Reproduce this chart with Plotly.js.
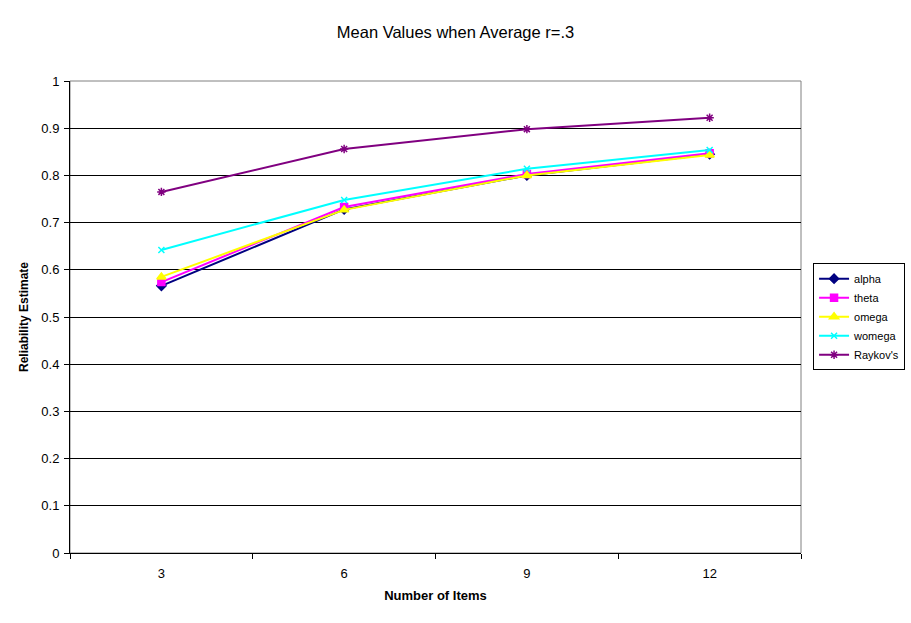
<!DOCTYPE html>
<html><head><meta charset="utf-8">
<script src="https://cdn.plot.ly/plotly-3.0.1.min.js"></script>
<style>html,body{margin:0;padding:0;background:#fff}</style>
</head><body>
<div id="chart" style="width:911px;height:623px"></div>
<script>
const categories = ["3", "6", "9", "12"];
const alpha   = [0.566, 0.728, 0.800, 0.845];
const theta   = [0.574, 0.733, 0.803, 0.847];
const omega   = [0.585, 0.727, 0.800, 0.843];
const womega  = [0.642, 0.748, 0.814, 0.854];
const raykovs = [0.765, 0.856, 0.898, 0.922];
const seriesNames = ["alpha", "theta", "omega", "womega", "Raykov's"];

const styles = [
  {color:"#000080", symbol:"diamond", size:7},
  {color:"#FF00FF", symbol:"square", size:7},
  {color:"#FFFF00", symbol:"triangle-up", size:8},
  {color:"#00FFFF", symbol:"x-thin-open", size:6},
  {color:"#800080", symbol:"asterisk-open", size:7}
];
const values = [alpha, theta, omega, womega, raykovs];
const traces = values.map((v,i)=>({
  x: categories, y: v, name: seriesNames[i], type:"scatter", mode:"lines+markers",
  line:{color:styles[i].color, width:2},
  marker:{color:styles[i].color, symbol:styles[i].symbol, size:styles[i].size,
          line:{color:styles[i].color, width:1.5}}
}));

const layout = {
  width:911, height:623,
  paper_bgcolor:"#fff", plot_bgcolor:"#fff",
  margin:{l:70, r:110, t:81, b:70, autoexpand:false},
  font:{family:"Liberation Sans, Arial, sans-serif", color:"#000", size:12},
  title:{text:"Mean Values when Average r=.3", x:0.5, xref:"container", y:0.9486, yref:"container",
         yanchor:"middle", font:{size:16.5, color:"#000"}},
  xaxis:{type:"category", range:[-0.5, 3.5], tickson:"boundaries", ticks:"outside", ticklen:5, tickcolor:"#000",
         showline:true, linecolor:"#000", linewidth:1, showgrid:false, zeroline:false,
         mirror:false, tickfont:{size:13}, ticklabelstandoff:8,
         title:{text:"<b>Number of Items</b>", font:{size:13}, standoff:11}},
  yaxis:{range:[0,1], dtick:0.1, ticks:"outside", ticklen:5, tickcolor:"#000",
         showline:true, linecolor:"#000", linewidth:1, showgrid:true, gridcolor:"#000", gridwidth:1,
         zeroline:false, tickfont:{size:13}, tickformat:"~g", ticklabelstandoff:2,
         title:{text:"<b>Reliability Estimate</b>", font:{size:12}, standoff:10}},
  shapes:[{type:"rect", xref:"paper", yref:"paper", x0:0, x1:1, y0:0, y1:1,
           line:{color:"#808080", width:1}, layer:"below"}],
  legend:{x:1.0165, y:0.614, xanchor:"left", yanchor:"top", bordercolor:"#000", borderwidth:1,
          bgcolor:"#fff", font:{size:11}, tracegroupgap:0, itemwidth:30},
  showlegend:true
};
Plotly.newPlot("chart", traces, layout, {displayModeBar:false, staticPlot:true});
</script>
</body></html>
